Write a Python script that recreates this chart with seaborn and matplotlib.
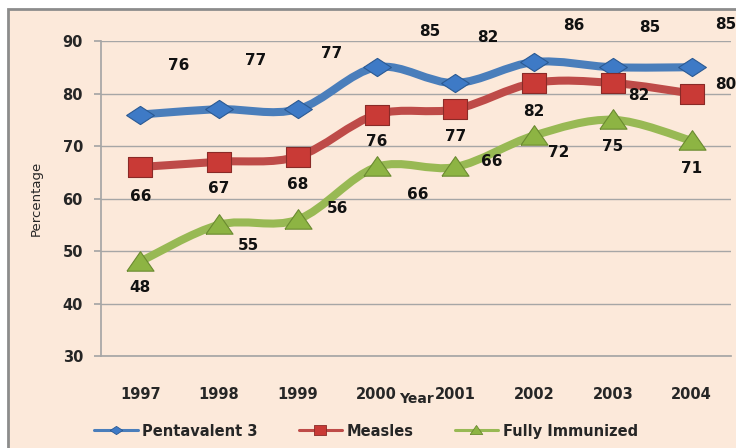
import numpy as np
import pandas as pd
import matplotlib
matplotlib.use("Agg")
import matplotlib.pyplot as plt
from matplotlib.path import Path
from matplotlib.patches import PathPatch, Rectangle
from matplotlib.lines import Line2D
import seaborn as sns

# data
years = ["1997", "1998", "1999", "2000", "2001", "2002", "2003", "2004"]
penta = [76, 77, 77, 85, 82, 86, 85, 85]
measles = [66, 67, 68, 76, 77, 82, 82, 80]
fully = [48, 55, 56, 66, 66, 72, 75, 71]
series_names = ["Pentavalent 3", "Measles", "Fully Immunized"]

# label offsets in pixels (style only)
penta_off = [(38, -49), (37, -49), (34, -56), (53, -36), (32, -46), (40, -37), (37, -40), (34, -43)]
measles_off = [(0, 29), (0, 27), (0, 28), (0, 27), (0, 27), (0, 28), (26, 12), (34, -9)]
fully_off = [(0, 26), (29, 21), (40, -11), (41, 27), (36, -6), (25, 17), (0, 27), (0, 28)]

bg = "#FCE9DA"
sns.set_theme(style="white", rc={"axes.facecolor": bg, "figure.facecolor": "white"})
plt.rcParams["font.family"] = ["DejaVu Sans"]

df = pd.DataFrame({"year": years, "Pentavalent 3": penta, "Measles": measles,
                   "Fully Immunized": fully})
df["x"] = np.arange(len(years))
long = df.melt(id_vars=["year", "x"], value_vars=series_names,
               var_name="series", value_name="pct")

fig = plt.figure(figsize=(7.36, 4.48), dpi=100)
fig.patches.append(Rectangle((8 / 736, -0.1), 1.2, 1 - 9 / 448 + 0.1,
                             transform=fig.transFigure, facecolor=bg,
                             edgecolor="#8C8C8C", lw=2, zorder=-5))
ax = fig.add_axes([101 / 736, 1 - 356 / 448, 630 / 736, 315 / 448])

line_cols = {"Pentavalent 3": "#4A7EBB", "Measles": "#BE4B48", "Fully Immunized": "#98B954"}
face_cols = {"Pentavalent 3": "#3E7AC6", "Measles": "#C93A36", "Fully Immunized": "#8DB443"}
edge_cols = {"Pentavalent 3": "#2B5A93", "Measles": "#8A2A27", "Fully Immunized": "#6A8A30"}
diamond = [(-1.45, 0), (0, 0.95), (1.45, 0), (0, -0.95), (-1.45, 0)]
square = [(-1.2, -1), (1.2, -1), (1.2, 1), (-1.2, 1), (-1.2, -1)]
tri = [(-1.25, -0.8), (1.25, -0.8), (0, 1.0), (-1.25, -0.8)]
mk = {"Pentavalent 3": diamond, "Measles": square, "Fully Immunized": tri}
msz = {"Pentavalent 3": 400, "Measles": 310, "Fully Immunized": 380}


def smooth_path(xs, ys):
    # Excel-style smoothed line drawn as cubic bezier through the data points
    pts = np.column_stack([xs, ys]).astype(float)
    ext = np.vstack([pts[0], pts, pts[-1]])
    verts = [pts[0]]
    codes = [Path.MOVETO]
    for i in range(len(pts) - 1):
        p0, p1, p2, p3 = ext[i], ext[i + 1], ext[i + 2], ext[i + 3]
        verts += [p1 + (p2 - p0) / 6, p2 - (p3 - p1) / 6, p2]
        codes += [Path.CURVE4] * 3
    return Path(verts, codes)


offsets = {"Pentavalent 3": penta_off, "Measles": measles_off, "Fully Immunized": fully_off}
for name in series_names:
    sub = long[long.series == name]
    ax.add_patch(PathPatch(smooth_path(sub.x, sub.pct), facecolor="none",
                           edgecolor=line_cols[name], lw=5.8, capstyle="round", zorder=2))
    sns.scatterplot(data=sub, x="x", y="pct", marker=mk[name], s=msz[name],
                    color=face_cols[name], edgecolor=edge_cols[name], linewidth=0.8,
                    zorder=3, ax=ax, legend=False)
    for xv, yv, off in zip(sub.x, sub.pct, offsets[name]):
        ax.annotate(f"{yv:d}", (xv, yv), xytext=(off[0], -off[1]),
                    textcoords="offset pixels", ha="center", va="center",
                    fontsize=11, fontweight="bold", color="#111111",
                    annotation_clip=False, zorder=4)

ax.set_xlim(-0.5, len(years) - 0.5)
ax.set_ylim(30, 90)
ax.set_yticks(range(30, 91, 10))
ax.set_xticks(df.x)
ax.set_xticklabels(years)
ax.grid(axis="y", color="#A6A6A6", lw=1)
ax.set_axisbelow(True)
for s in ["top", "right"]:
    ax.spines[s].set_visible(False)
ax.spines["left"].set_color("#A6A6A6")
ax.spines["bottom"].set_color("#A6A6A6")
ax.tick_params(axis="y", left=True, length=5, color="#A6A6A6", pad=8, labelsize=10.5)
ax.tick_params(axis="x", bottom=False, pad=16, labelsize=10.5)
for t in ax.get_xticklabels() + ax.get_yticklabels():
    t.set_fontweight("bold")
ax.set_xlabel("Year", fontsize=10, fontweight="bold", labelpad=-7)
ax.set_ylabel("Percentage", fontsize=9.5, labelpad=14)

handles = [Line2D([0], [0], color=line_cols[n], lw=2.2, marker=mk[n], markersize=9,
                  markerfacecolor=face_cols[n], markeredgecolor=edge_cols[n],
                  markeredgewidth=0.6) for n in series_names]
fig.legend(handles, series_names, loc="center", ncol=3, frameon=False,
           bbox_to_anchor=(366 / 736, 1 - 431 / 448), handlelength=3.0,
           handletextpad=0.3, columnspacing=2.8,
           prop={"size": 10.5, "weight": "bold"})

fig.savefig("out.png", dpi=100)
